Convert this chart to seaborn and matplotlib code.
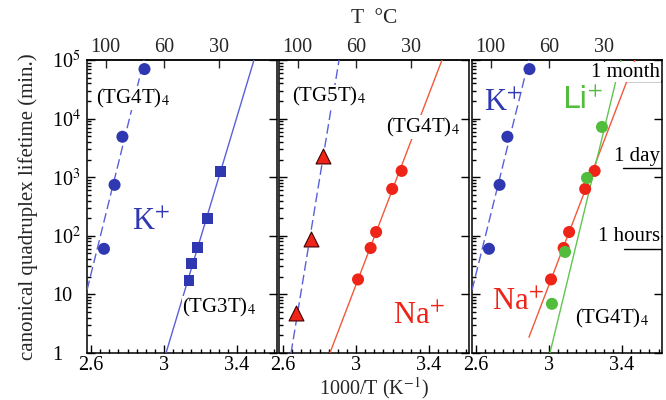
import numpy as np
import pandas as pd
import matplotlib
matplotlib.use("Agg")
import matplotlib.pyplot as plt
from matplotlib.ticker import FixedLocator, LogLocator, MultipleLocator, NullLocator, NullFormatter
import seaborn as sns

# K+ , (TG4T)4 : circles + dashed fit
k_tg4t_x = [2.671, 2.729, 2.772, 2.893]
k_tg4t_y = [60, 740, 4900, 70000]
k_tg4t_fit_x = [2.56, 2.89]
k_tg4t_fit_y = [7, 100000]

# K+ , (TG3T)4 : squares + solid fit
k_tg3t_x = [3.137, 3.148, 3.181, 3.236, 3.307]
k_tg3t_y = [17, 34, 64, 194, 1230]
k_tg3t_fit_x = [3.011, 3.493]
k_tg3t_fit_y = [1, 100000]

# Na+ , (TG5T)4 : triangles + dashed fit
na_tg5t_x = [2.671, 2.753, 2.819]
na_tg5t_y = [4.8, 88, 2300]
na_tg5t_fit_x = [2.644, 2.907]
na_tg5t_fit_y = [1, 100000]

# Na+ , (TG4T)4 : circles + solid fit
na_tg4t_x = [3.011, 3.080, 3.110, 3.198, 3.250]
na_tg4t_y = [18, 62, 116, 630, 1280]
na_tg4t_fit_x = [2.857, 3.471]
na_tg4t_fit_y = [1, 100000]
na_tg4t_fit3_x = [2.890, 3.471]
na_tg4t_fit3_y = [1.86, 100000]

# Li+ , (TG4T)4 : circles + solid fit
li_tg4t_x = [3.016, 3.088, 3.208, 3.290]
li_tg4t_y = [6.9, 53, 970, 7200]
li_tg4t_fit_x = [3.005, 3.394]
li_tg4t_fit_y = [1, 100000]

# reference lifetimes (minutes)
ref_labels = ["1 month", "1 day", "1 hours"]
ref_minutes = [43200, 1440, 60]

temp_ticks_c = [100, 60, 30]
x_ticks = [2.6, 3.0, 3.4]
x_tick_labels = ["2.6", "3", "3.4"]
y_ticks = [1, 10, 100, 1000, 10000, 100000]
y_tick_labels = ["1", "10", "10$^{2}$", "10$^{3}$", "10$^{4}$", "10$^{5}$"]

BLUE = "#2f38b0"
BLUE_LINE = "#5a60d8"
RED = "#ee2418"
RED_LINE = "#f2583a"
GREEN = "#52bd3c"
GREEN_LINE = "#62c452"

sns.set_theme(style="ticks")
plt.rcParams["font.family"] = ["Liberation Serif", "DejaVu Serif"]
plt.rcParams["mathtext.fontset"] = "stix"
plt.rcParams["axes.linewidth"] = 1.1

TICK_FS = 14.5
TEXT_FS = 15


def draw_points(ax, x, y, color, marker, size, edge="none"):
    df = pd.DataFrame({"x": x, "y": y})
    sns.scatterplot(data=df, x="x", y="y", ax=ax, color=color, marker=marker,
                    s=size, edgecolor=edge, linewidth=0.8, zorder=4, legend=False)


def draw_fit(ax, x, y, color, dashed=False):
    ls = (0, (7, 3)) if dashed else "-"
    sns.lineplot(x=x, y=y, ax=ax, color=color, lw=1.0, sort=False,
                 estimator=None, linestyle=ls, zorder=3)


def label(ax, x, y, s, color="black", size=TEXT_FS, ha="left", box=True, **kw):
    bbox = dict(facecolor="white", edgecolor="none", pad=0.3) if box else None
    ax.text(x, y, s, transform=ax.transAxes, color=color, fontsize=size,
            ha=ha, va="center", zorder=5, bbox=bbox, **kw)


fig = plt.figure(figsize=(6.66, 4.0), dpi=100)
W, H = 666, 400
lefts = [87, 279, 472]
axes = []
for i, l in enumerate(lefts):
    ax = fig.add_axes([l / W, 47 / H, 190 / W, 293 / H])
    ax.set_yscale("log")
    axes.append(ax)

ax1, ax2, ax3 = axes

# panel 1: K+
draw_fit(ax1, k_tg4t_fit_x, k_tg4t_fit_y, BLUE_LINE, dashed=True)
draw_points(ax1, k_tg4t_x, k_tg4t_y, BLUE, "o", 75)
draw_fit(ax1, k_tg3t_fit_x, k_tg3t_fit_y, BLUE_LINE)
draw_points(ax1, k_tg3t_x, k_tg3t_y, BLUE, "s", 62)
label(ax1, 0.05, 0.87, "(TG4T)$_{4}$")
label(ax1, 0.235, 0.445, "K$^{+}$", color=BLUE, size=22, box=False)
label(ax1, 0.50, 0.154, "(TG3T)$_{4}$")

# panel 2: Na+
draw_fit(ax2, na_tg5t_fit_x, na_tg5t_fit_y, BLUE_LINE, dashed=True)
draw_points(ax2, na_tg5t_x, na_tg5t_y, RED, "^", 115, edge="#400000")
draw_fit(ax2, na_tg4t_fit_x, na_tg4t_fit_y, RED_LINE)
draw_points(ax2, na_tg4t_x, na_tg4t_y, RED, "o", 75)
label(ax2, 0.07, 0.874, "(TG5T)$_{4}$")
label(ax2, 0.565, 0.771, "(TG4T)$_{4}$")
label(ax2, 0.60, 0.125, "Na$^{+}$", color=RED, size=22, box=False)

# panel 3: all cations with (TG4T)4
draw_fit(ax3, k_tg4t_fit_x, k_tg4t_fit_y, BLUE_LINE, dashed=True)
draw_points(ax3, k_tg4t_x, k_tg4t_y, BLUE, "o", 75)
draw_fit(ax3, na_tg4t_fit3_x, na_tg4t_fit3_y, RED_LINE)
draw_fit(ax3, li_tg4t_fit_x, li_tg4t_fit_y, GREEN_LINE)
draw_points(ax3, na_tg4t_x, na_tg4t_y, RED, "o", 75)
draw_points(ax3, li_tg4t_x, li_tg4t_y, GREEN, "o", 75)
label(ax3, 0.065, 0.853, "K$^{+}$", color=BLUE, size=22, box=False)
label(ax3, 0.475, 0.863, "Li$^{+}$", color=GREEN, size=22, box=False,
      family=["DejaVu Sans"])
label(ax3, 0.105, 0.171, "Na$^{+}$", color=RED, size=22, box=False)
label(ax3, 0.54, 0.119, "(TG4T)$_{4}$")

ref_xmin = [0.816, 0.795, 0.80]
ref_text_y = [0.959, 0.669, 0.396]
for txt, m, xm, ty in zip(ref_labels, ref_minutes, ref_xmin, ref_text_y):
    ax3.axhline(m, xmin=xm, xmax=1.0, color="black", lw=1.0, zorder=2)
    label(ax3, 0.99, ty, txt, ha="right")


def c_from_x(x):
    x = np.asarray(x, dtype=float)
    return 1000.0 / x - 273.15


def x_from_c(c):
    c = np.asarray(c, dtype=float)
    return 1000.0 / (c + 273.15)


for i, ax in enumerate(axes):
    ax.set_xlim(2.578, 3.619)
    ax.set_ylim(1, 1e5)
    ax.set_xlabel("")
    ax.set_ylabel("")
    ax.xaxis.set_major_locator(FixedLocator(x_ticks))
    ax.set_xticklabels(x_tick_labels)
    ax.xaxis.set_minor_locator(MultipleLocator(0.05))
    ax.yaxis.set_major_locator(FixedLocator(y_ticks))
    ax.yaxis.set_minor_locator(LogLocator(base=10, subs=np.arange(2, 10), numticks=20))
    ax.yaxis.set_minor_formatter(NullFormatter())
    ax.tick_params(axis="both", which="both", direction="in", colors="black",
                   labelsize=TICK_FS, width=1.0)
    ax.tick_params(axis="both", which="major", length=6)
    ax.tick_params(axis="both", which="minor", length=3)
    ax.tick_params(axis="x", top=False, bottom=True, pad=2)
    ax.tick_params(axis="y", left=True, right=True, labelleft=(i == 0))
    if i == 0:
        # labels are left-aligned in a column, as in the original figure
        ax.set_yticklabels(y_tick_labels, ha="left")
        ax.tick_params(axis="y", pad=25)
    for sp in ax.spines.values():
        sp.set_visible(True)
        sp.set_color("black")
        sp.set_linewidth(1.1)

    sec = ax.secondary_xaxis("top", functions=(c_from_x, x_from_c))
    sec.set_xticks(temp_ticks_c)
    sec.set_xticklabels([str(t) for t in temp_ticks_c])
    sec.xaxis.set_minor_locator(NullLocator())
    sec.tick_params(direction="in", length=6, width=1.0, labelsize=TICK_FS, pad=2)
    if i == 1:
        sec.set_xlabel("T  °C", fontsize=15.5, labelpad=11)

ax1.set_ylabel("canonical quadruplex lifetime (min.)", fontsize=TEXT_FS, labelpad=10)
ax2.set_xlabel("1000/T (K$^{-1}$)", fontsize=14.5, labelpad=0)

fig.savefig("out.png", dpi=100)
